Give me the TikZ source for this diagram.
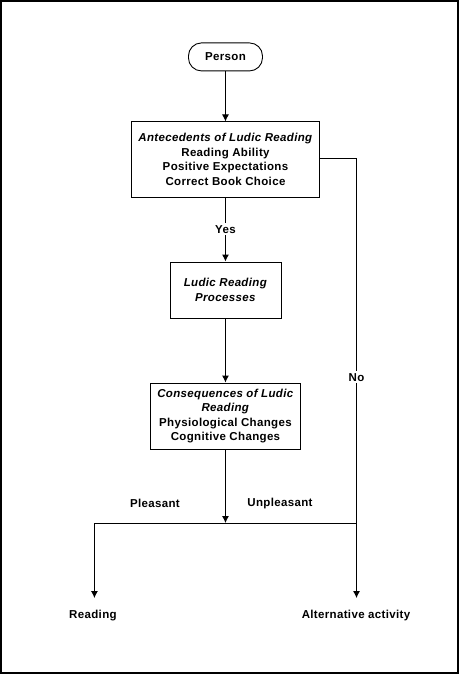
\documentclass[tikz,border=0pt]{standalone}
\usepackage{fontspec}
\setmainfont{Liberation Sans}[LetterSpace=3]
\usepackage{tikz}
\usetikzlibrary{arrows.meta,calc}

\begin{document}
\begin{tikzpicture}[>={Latex[length=7pt,width=7pt]}, x=1pt, y=-1pt, font=\bfseries\fontsize{11.5}{14.5}\selectfont]
	\tikzstyle{block}=[draw, line width=0.9pt, align=center, inner sep=2pt]
	\tikzstyle{term}=[block, rounded corners=13pt, minimum width=74pt, minimum height=28pt]
	\tikzstyle{flow}=[line width=1pt, ->]
	\tikzstyle{tag}=[fill=white, inner sep=2pt]

	\draw [line width=1.8pt] (1,1) rectangle (458,673);

	\node (person) [term] at (225.5,57) {Person};

	\node (antec) [block, minimum width=187pt, minimum height=75pt] at (225.5,159.5)
		{\textit{Antecedents of Ludic Reading}\\Reading Ability\\Positive Expectations\\Correct Book Choice};

	\node (ludic) [block, minimum width=111pt, minimum height=56pt] at (225.5,290)
		{\textit{Ludic Reading}\\\textit{Processes}};

	\node (conseq) [block, minimum width=149pt, minimum height=66pt] at (225.5,416)
		{\textit{Consequences of Ludic}\\\textit{Reading}\\Physiological Changes\\Cognitive Changes};

	\coordinate (split) at (225.5,523);
	\coordinate (left) at (94.5,523);
	\coordinate (right) at (356.5,523);
	\coordinate (corner) at (356.5,159);

	\node (reading) at (93,615) {Reading};
	\node (alt) at (356,615) {Alternative activity};

	\draw [flow] (person) -- (antec);
	\draw [flow] (antec) -- node[tag] {Yes} (ludic);
	\draw [flow] (ludic) -- (conseq);
	\draw [flow] (conseq) -- (split);
	\draw [line width=1pt] (antec.east |- corner) -- (corner) -- node[tag, pos=0.60] {No} (right);
	\draw [line width=1pt] (left) -- (right);
	\draw [flow] (left) -- (left |- 0,598);
	\draw [flow] (right) -- (right |- 0,598);

	\node at (155,503) {Pleasant};
	\node at (280,503) {Unpleasant};
\end{tikzpicture}
\end{document}
